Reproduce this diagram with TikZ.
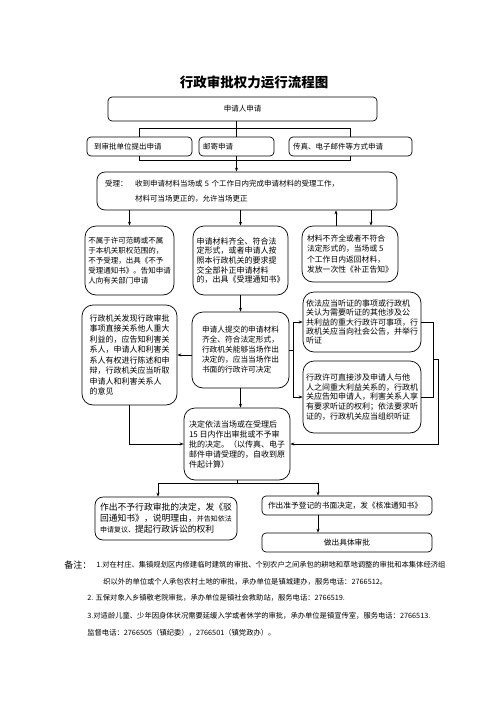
\documentclass[tikz,border=0pt]{standalone}
\usepackage{fontspec}
\setmainfont{Noto Sans CJK SC}
\usetikzlibrary{arrows.meta,calc}
\newcommand{\fsz}[2]{\fontsize{#1}{#2}\selectfont}

\begin{document}
\begin{tikzpicture}[x=1pt,y=-1pt,line width=0.7pt,
	>={Stealth[length=4pt,width=3pt]},
	box/.style={draw,rounded corners=4pt,align=left,inner sep=3pt},
	roundbox/.style={box,rounded corners=11pt},
	note/.style={anchor=west,inner sep=0pt,font=\fsz{7.3}{9}}]
	\useasboundingbox (0,0) rectangle (496,702);
	\node[font=\fsz{13.5}{16}\bfseries] (title) at (254,82) {行政审批权力运行流程图};
	\node[box,minimum width=269pt,minimum height=24pt,font=\fsz{7.5}{9}] (apply) at (242.5,109) {申请人申请};
	\node[box,minimum height=19pt,text width=91pt,inner xsep=7pt,font=\fsz{7.5}{9}] (b1) at (139.5,146.5) {到审批单位提出申请};
	\node[box,minimum height=19pt,text width=67pt,inner xsep=4pt,font=\fsz{7.5}{9}] (b2) at (236.5,146.5) {邮寄申请};
	\node[box,minimum height=19pt,text width=115pt,inner xsep=4pt,font=\fsz{7.5}{9}] (b3) at (350.5,146.5) {传真、电子邮件等方式申请};
	\node[box,rounded corners=8pt,minimum height=38pt,text width=284pt,inner xsep=8pt,font=\fsz{7.5}{15}] (accept) at (247,191)
		{\makebox[30pt][l]{受理：}收到申请材料当场或 5 个工作日内完成申请材料的受理工作，\\\hspace*{30pt}材料可当场更正的，允许当场更正};
	\node[roundbox,minimum width=89pt,minimum height=69pt,font=\fsz{7.5}{10}] (notacc) at (129.5,260.5)
		{不属于许可范畴或不属\\于本机关职权范围的，\\不予受理，出具《不予\\受理通知书》。告知申请\\人向有关部门申请};
	\node[roundbox,minimum width=95pt,minimum height=69pt,font=\fsz{8}{9.6}] (accok) at (240.5,260.5)
		{申请材料齐全、符合法\\定形式，或者申请人按\\照本行政机关的要求提\\交全部补正申请材料\\的，出具《受理通知书》};
	\node[roundbox,minimum width=96pt,minimum height=56pt,font=\fsz{7.8}{10.3}] (incomp) at (350,254)
		{材料不齐全或者不符合\\法定形式的，当场或 5\\个工作日内返回材料，\\发放一次性《补正告知》};
	\node[roundbox,minimum width=97pt,minimum height=76pt,font=\fsz{7.7}{10}] (onsite) at (240.5,350)
		{申请人提交的申请材料\\齐全、符合法定形式，\\行政机关能够当场作出\\决定的，应当当场作出\\书面的行政许可决定};
	\node[roundbox,minimum width=95pt,minimum height=100pt,font=\fsz{8}{10.5}] (review) at (129.5,355)
		{行政机关发现行政审批\\事项直接关系他人重大\\利益的，应告知利害关\\系人，申请人和利害关\\系人有权进行陈述和申\\辩，行政机关应当听取\\申请人和利害关系人\\的意见};
	\node[roundbox,minimum width=118pt,minimum height=60pt,inner xsep=2pt,font=\fsz{8}{9.4}] (hear1) at (362,322)
		{依法应当听证的事项或行政机\\关认为需要听证的其他涉及公\\共利益的重大行政许可事项，行\\政机关应当向社会公告，并举行\\听证};
	\node[roundbox,minimum width=118pt,minimum height=72pt,inner xsep=2pt,font=\fsz{8}{9.6}] (hear2) at (362,397)
		{行政许可直接涉及申请人与他\\人之间重大利益关系的，行政机\\关应告知申请人，利害关系人享\\有要求听证的权利；依法要求听\\证的，行政机关应当组织听证};
	\node[roundbox,minimum width=106pt,minimum height=72pt,font=\fsz{8}{10}] (decide) at (237,444)
		{决定依法当场或在受理后\\15 日内作出审批或不予审\\批的决定。（以传真、电子\\邮件申请受理的，自收到原\\件起计算）};
	\node[box,rounded corners=8pt,minimum width=142pt,minimum height=43pt,font=\fsz{8.8}{11}] (reject) at (166,518.5)
		{作出不予行政审批的决定，发《驳\\回通知书》，说明理由，{\fsz{7}{11}并告知依法}\\{\fsz{7}{11}申请复议、}提起行政诉讼的权利};
	\node[box,minimum height=19pt,text width=158pt,inner xsep=6pt,font=\fsz{7.7}{9}] (approve) at (347,505.5) {作出准予登记的书面决定，发《核准通知书》};
	\node[box,minimum width=170pt,minimum height=19pt,align=center,font=\fsz{7.7}{9}] (final) at (347,542.5) {做出具体审批};
	\draw (b1.north) -- ++(0,-8) -| (b3.north);
	\draw (apply.south -| b2.north) -- (b2.north);
	\draw (b1.south) -- ++(0,4) -| (b3.south);
	\draw[->] (b2.south) -- (accept.north -| b2.south);
	\draw[->] (accept.south -| notacc.north) -- (notacc.north);
	\draw[->] (accept.south -| accok.north) -- (accok.north);
	\coordinate (incup) at ($(incomp.north)+(-14,0)$);
	\coordinate (incdn) at ($(incomp.north)+(21,0)$);
	\draw[->] (incup) -- (incup |- accept.south);
	\draw[->] (incdn |- accept.south) -- (incdn);
	\draw[->] (accok.south) -- (accok.south |- onsite.north);
	\draw[->] (onsite.west |- review.east) -- (review.east);
	\draw (onsite.east) -- ++(4,0) coordinate (hs);
	\draw[->] (hs) |- (hear1.west);
	\draw[->] (hs) |- (hear2.west);
	\draw (hear1.east) -- ++(12,0) |- (hear2.east);
	\coordinate (hm) at ($(hear1.east)!0.5!(hear2.east)+(12,0)$);
	\draw[->] (hm) -- ++(5,0) |- (decide.east);
	\draw[->] (review.south) |- (decide.west);
	\draw[->] (onsite.south) -- (onsite.south |- decide.north);
	\draw (decide.south) -- ++(0,3) coordinate (df);
	\coordinate (rejin) at ($(reject.north)+(-8,0)$);
	\coordinate (appin) at ($(approve.north)+(-29,0)$);
	\draw[->] (df) -| (rejin);
	\draw[->] (df) -| (appin);
	\draw[->] (approve.south -| appin) -- (final.north -| appin);
	\node[anchor=west,inner sep=0pt,font=\fsz{9}{11}] (notehead) at (64,565) {备注：};
	\node[note] (note1no) at (96,565) {1.};
	\node[note,text width=350pt,align=justify] (note1) at (102,565)
		{\XeTeXlinebreaklocale "zh"\XeTeXlinebreakskip=0pt plus 2pt\parfillskip=0pt 对在村庄、集镇规划区内修建临时建筑的审批、个别农户之间承包的耕地和草地调整的审批和本集体经济组};
	\node[note] (note2) at (103,582) {织以外的单位或个人承包农村土地的审批，承办单位是镇城建办，服务电话：2766512。};
	\node[note] (note3) at (87,598) {2. 五保对象入乡镇敬老院审批，承办单位是镇社会救助站，服务电话：2766519.};
	\node[note] (note4) at (87,616) {3.对适龄儿童、少年因身体状况需要延缓入学或者休学的审批，承办单位是镇宣传室，服务电话：2766513.};
	\node[note] (note5) at (87,633) {监督电话：2766505（镇纪委），2766501（镇党政办）。};
\end{tikzpicture}
\end{document}
